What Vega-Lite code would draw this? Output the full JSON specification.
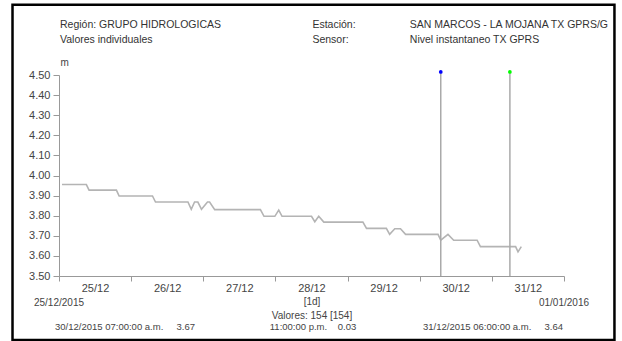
{
  "$schema": "https://vega.github.io/schema/vega-lite/v6.json",
  "width": 505,
  "height": 201,
  "autosize": {"type": "none"},
  "padding": {"left": 59, "top": 75, "right": 58, "bottom": 65},
  "background": "white",
  "config": {
    "font": "Liberation Sans",
    "view": {"stroke": null}
  },
  "datasets": {
    "level": [
      {"t": "2015-12-25T01:00:00Z", "v": 3.955},
      {"t": "2015-12-25T09:06:00Z", "v": 3.955},
      {"t": "2015-12-25T10:00:00Z", "v": 3.927},
      {"t": "2015-12-25T19:06:00Z", "v": 3.927},
      {"t": "2015-12-25T20:00:00Z", "v": 3.898},
      {"t": "2015-12-26T07:06:00Z", "v": 3.898},
      {"t": "2015-12-26T08:06:00Z", "v": 3.868},
      {"t": "2015-12-26T18:54:00Z", "v": 3.868},
      {"t": "2015-12-26T20:00:00Z", "v": 3.832},
      {"t": "2015-12-26T21:06:00Z", "v": 3.868},
      {"t": "2015-12-26T22:12:00Z", "v": 3.868},
      {"t": "2015-12-26T23:24:00Z", "v": 3.832},
      {"t": "2015-12-27T01:24:00Z", "v": 3.868},
      {"t": "2015-12-27T02:06:00Z", "v": 3.868},
      {"t": "2015-12-27T03:48:00Z", "v": 3.830},
      {"t": "2015-12-27T19:00:00Z", "v": 3.830},
      {"t": "2015-12-27T20:12:00Z", "v": 3.797},
      {"t": "2015-12-27T23:48:00Z", "v": 3.797},
      {"t": "2015-12-28T01:06:00Z", "v": 3.828},
      {"t": "2015-12-28T02:12:00Z", "v": 3.797},
      {"t": "2015-12-28T12:00:00Z", "v": 3.797},
      {"t": "2015-12-28T13:06:00Z", "v": 3.770},
      {"t": "2015-12-28T14:24:00Z", "v": 3.797},
      {"t": "2015-12-28T16:06:00Z", "v": 3.768},
      {"t": "2015-12-29T05:06:00Z", "v": 3.768},
      {"t": "2015-12-29T06:18:00Z", "v": 3.737},
      {"t": "2015-12-29T12:54:00Z", "v": 3.737},
      {"t": "2015-12-29T14:00:00Z", "v": 3.707},
      {"t": "2015-12-29T15:42:00Z", "v": 3.735},
      {"t": "2015-12-29T17:36:00Z", "v": 3.735},
      {"t": "2015-12-29T19:18:00Z", "v": 3.707},
      {"t": "2015-12-30T06:06:00Z", "v": 3.707},
      {"t": "2015-12-30T07:00:00Z", "v": 3.678},
      {"t": "2015-12-30T09:24:00Z", "v": 3.707},
      {"t": "2015-12-30T11:18:00Z", "v": 3.678},
      {"t": "2015-12-30T19:06:00Z", "v": 3.678},
      {"t": "2015-12-30T20:12:00Z", "v": 3.646},
      {"t": "2015-12-31T07:54:00Z", "v": 3.646},
      {"t": "2015-12-31T08:42:00Z", "v": 3.620},
      {"t": "2015-12-31T09:48:00Z", "v": 3.646}
    ],
    "cursors": [
      {"t": "2015-12-30T07:00:00Z", "v": 3.67, "cursor": "A"},
      {"t": "2015-12-31T06:00:00Z", "v": 3.64, "cursor": "B"}
    ]
  },
  "layer": [
    {
      "data": {"name": "level"},
      "mark": {"type": "line", "color": "#b4b4b4", "strokeWidth": 1.6},
      "encoding": {
        "x": {
          "field": "t",
          "type": "temporal",
          "scale": {
            "type": "utc",
            "domain": [
              {"year": 2015, "month": 12, "date": 25, "utc": true},
              {"year": 2016, "month": 1, "date": 1, "utc": true}
            ]
          },
          "axis": {
            "values": [
              {"year": 2015, "month": 12, "date": 25, "utc": true},
              {"year": 2015, "month": 12, "date": 26, "utc": true},
              {"year": 2015, "month": 12, "date": 27, "utc": true},
              {"year": 2015, "month": 12, "date": 28, "utc": true},
              {"year": 2015, "month": 12, "date": 29, "utc": true},
              {"year": 2015, "month": 12, "date": 30, "utc": true},
              {"year": 2015, "month": 12, "date": 31, "utc": true},
              {"year": 2016, "month": 1, "date": 1, "utc": true}
            ],
            "tickCount": 20,
            "labelExpr": "utcdate(datum.value) == 1 ? '' : utcFormat(datum.value, '%d/%m')",
            "labelOffset": 36,
            "labelFlush": false,
            "labelOverlap": false,
            "labelBound": false,
            "grid": false,
            "tickSize": 5,
            "domainColor": "#999999",
            "tickColor": "#999999",
            "labelColor": "#444444",
            "labelFontSize": 11,
            "labelPadding": 1,
            "title": ["[1d]", "Valores: 154 [154]"],
            "titleFontSize": 10,
            "titleFontWeight": "normal",
            "titleColor": "#444444",
            "titlePadding": 3,
            "titleLineHeight": 14
          }
        },
        "y": {
          "field": "v",
          "type": "quantitative",
          "scale": {"domain": [3.5, 4.5], "zero": false, "nice": false},
          "axis": {
            "values": [3.5, 3.6, 3.7, 3.8, 3.9, 4.0, 4.1, 4.2, 4.3, 4.4, 4.5],
            "tickCount": 20,
            "format": ".2f",
            "grid": false,
            "labelOverlap": false,
            "labelFlush": false,
            "tickSize": 6,
            "labelPadding": 3,
            "domainColor": "#999999",
            "tickColor": "#999999",
            "labelColor": "#444444",
            "labelFontSize": 11,
            "title": "m",
            "titleAngle": 0,
            "titleX": 1,
            "titleY": -13,
            "titleAlign": "left",
            "titleBaseline": "middle",
            "titleFontSize": 10,
            "titleFontWeight": "normal",
            "titleColor": "#444444"
          }
        }
      }
    },
    {
      "data": {"name": "cursors"},
      "mark": {"type": "rule", "color": "#aaaaaa", "strokeWidth": 1.5},
      "encoding": {
        "x": {"field": "t", "type": "temporal"},
        "y": {"datum": 3.5},
        "y2": {"datum": 4.515}
      }
    },
    {
      "data": {"name": "cursors"},
      "mark": {"type": "point", "filled": true, "size": 14, "opacity": 1},
      "encoding": {
        "x": {"field": "t", "type": "temporal"},
        "y": {"datum": 4.515},
        "color": {
          "field": "cursor",
          "type": "nominal",
          "scale": {"domain": ["A", "B"], "range": ["#0000ff", "#00ff00"]},
          "legend": null
        }
      }
    },
    {
      "data": {"values": [{"label": "Región: GRUPO HIDROLOGICAS\nValores individuales"}]},
      "mark": {"type": "text", "align": "left", "baseline": "middle", "lineBreak": "\n", "lineHeight": 15, "fontSize": 10.5, "color": "#333333", "dx": 1},
      "encoding": {
        "x": {"datum": {"year": 2015, "month": 12, "date": 25, "utc": true}, "type": "temporal"},
        "y": {"datum": 4.7488},
        "text": {"field": "label"}
      }
    },
    {
      "data": {"values": [{"label": "Estación:\nSensor:"}]},
      "mark": {"type": "text", "align": "left", "baseline": "middle", "lineBreak": "\n", "lineHeight": 15, "fontSize": 10.5, "color": "#333333"},
      "encoding": {
        "x": {"datum": {"year": 2015, "month": 12, "date": 28, "hours": 12, "minutes": 18, "utc": true}, "type": "temporal"},
        "y": {"datum": 4.7488},
        "text": {"field": "label"}
      }
    },
    {
      "data": {"values": [{"label": "SAN MARCOS - LA MOJANA TX GPRS/GOES\nNivel instantaneo TX GPRS"}]},
      "mark": {"type": "text", "align": "left", "baseline": "middle", "lineBreak": "\n", "lineHeight": 15, "fontSize": 10.5, "color": "#333333", "limit": 203, "ellipsis": "\u200b"},
      "encoding": {
        "x": {"datum": {"year": 2015, "month": 12, "date": 29, "hours": 20, "minutes": 42, "utc": true}, "type": "temporal"},
        "y": {"datum": 4.7488},
        "text": {"field": "label"}
      }
    },
    {
      "data": {"values": [{"label": "25/12/2015"}]},
      "mark": {"type": "text", "align": "center", "baseline": "middle", "fontSize": 10, "color": "#444444"},
      "encoding": {
        "x": {"datum": {"year": 2015, "month": 12, "date": 25, "utc": true}, "type": "temporal"},
        "y": {"datum": 3.368},
        "text": {"field": "label"}
      }
    },
    {
      "data": {"values": [{"label": "01/01/2016"}]},
      "mark": {"type": "text", "align": "center", "baseline": "middle", "fontSize": 10, "color": "#444444"},
      "encoding": {
        "x": {"datum": {"year": 2016, "month": 1, "date": 1, "utc": true}, "type": "temporal"},
        "y": {"datum": 3.368},
        "text": {"field": "label"}
      }
    },
    {
      "data": {"values": [{"label": "30/12/2015 07:00:00 a.m.\u00a0\u00a0\u00a0\u00a0\u00a03.67"}]},
      "mark": {"type": "text", "align": "left", "baseline": "middle", "fontSize": 9.5, "color": "#444444", "dx": -4},
      "encoding": {
        "x": {"datum": {"year": 2015, "month": 12, "date": 25, "utc": true}, "type": "temporal"},
        "y": {"datum": 3.245},
        "text": {"field": "label"}
      }
    },
    {
      "data": {"values": [{"label": "11:00:00 p.m.\u00a0\u00a0\u00a0\u00a00.03"}]},
      "mark": {"type": "text", "align": "center", "baseline": "middle", "fontSize": 9.5, "color": "#444444", "dx": 1.5},
      "encoding": {
        "x": {"datum": {"year": 2015, "month": 12, "date": 28, "hours": 12, "utc": true}, "type": "temporal"},
        "y": {"datum": 3.245},
        "text": {"field": "label"}
      }
    },
    {
      "data": {"values": [{"label": "31/12/2015 06:00:00 a.m.\u00a0\u00a0\u00a0\u00a0\u00a03.64"}]},
      "mark": {"type": "text", "align": "right", "baseline": "middle", "fontSize": 9.5, "color": "#444444", "dx": -1},
      "encoding": {
        "x": {"datum": {"year": 2016, "month": 1, "date": 1, "utc": true}, "type": "temporal"},
        "y": {"datum": 3.245},
        "text": {"field": "label"}
      }
    },
    {
      "data": {"values": [{"frame": "border"}]},
      "mark": {"type": "rect", "fillOpacity": 0, "stroke": "#000000", "strokeWidth": 2.5},
      "encoding": {
        "x": {"datum": {"year": 2015, "month": 12, "date": 24, "hours": 8, "minutes": 32, "utc": true}, "type": "temporal"},
        "x2": {"datum": {"year": 2016, "month": 1, "date": 1, "hours": 16, "minutes": 47, "utc": true}},
        "y": {"datum": 4.8498},
        "y2": {"datum": 3.1816}
      }
    }
  ]
}
